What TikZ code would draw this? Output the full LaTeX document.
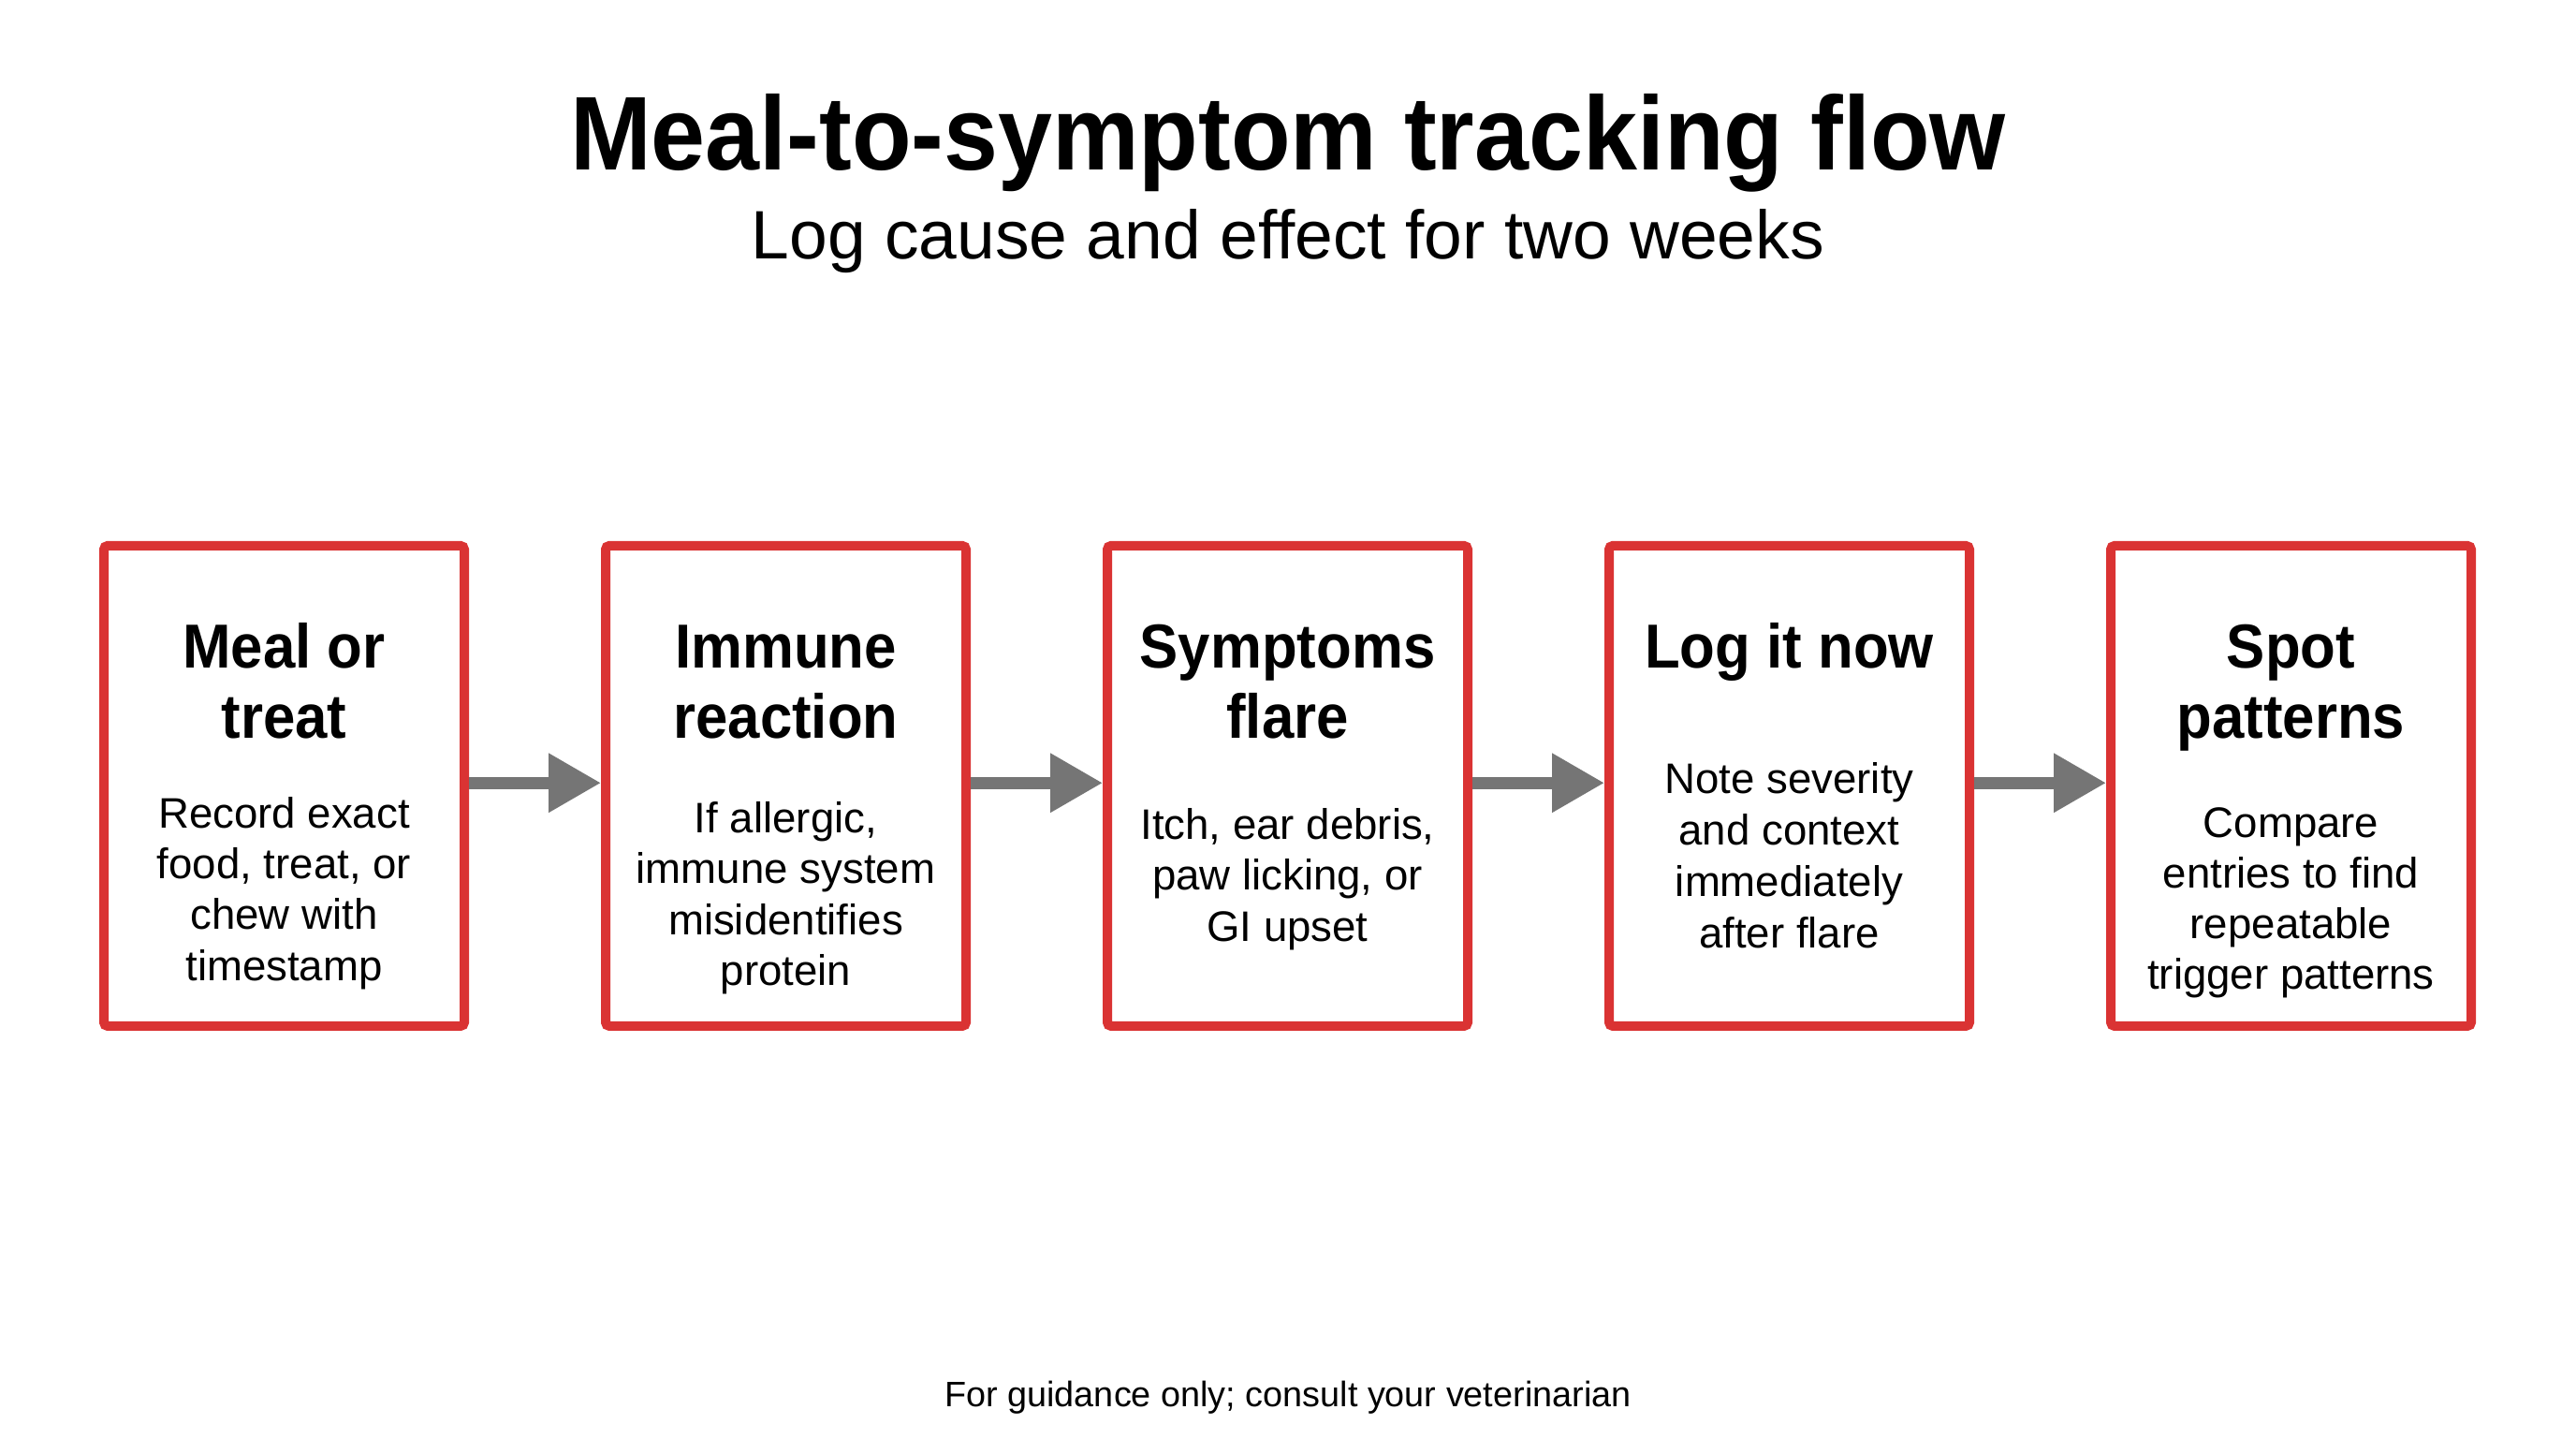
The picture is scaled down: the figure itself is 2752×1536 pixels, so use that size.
\documentclass[tikz,border=0pt]{standalone}
\usepackage{fontspec}
\setmainfont{Liberation Sans}
\newfontfamily\headfont{Liberation Sans}[FakeStretch=0.93]
\usetikzlibrary{arrows.meta}
\definecolor{boxred}{HTML}{DA3333}
\definecolor{arrgray}{HTML}{757575}
\tikzset{
  stepbox/.style={draw=boxred, line width=2.5pt, fill=white, rounded corners=1pt,
    minimum width=96.25pt, minimum height=128.25pt, inner sep=0pt},
  flowarrow/.style={draw=arrgray, line width=3.25pt, -{Triangle[length=14pt,width=15pt]}},
  headtxt/.style={font=\headfont\bfseries\fontsize{16.6pt}{19pt}\selectfont, anchor=base, inner sep=0pt},
  desctxt/.style={font=\fontsize{11.4pt}{13.6pt}\selectfont, anchor=base, inner sep=0pt},
}
\begin{document}
\begin{tikzpicture}[x=0.25pt,y=-0.25pt]
\useasboundingbox (0,0) rectangle (2752,1536);
\fill[white] (0,0) rectangle (2752,1536);

\node[font=\headfont\bfseries\fontsize{28pt}{32pt}\selectfont, anchor=base, inner sep=0pt] (title) at (1376,181) {Meal-to-symptom tracking flow};
\node[font=\fontsize{18.3pt}{22pt}\selectfont, anchor=base, inner sep=0pt] (subtitle) at (1376,276) {Log cause and effect for two weeks};

\node[stepbox] (b1) at (303.5,839.4) {};
\node[stepbox] (b2) at (839.5,839.4) {};
\node[stepbox] (b3) at (1375.5,839.4) {};
\node[stepbox] (b4) at (1911.5,839.4) {};
\node[stepbox] (b5) at (2447.5,839.4) {};

\draw[flowarrow] ([yshift=0.8pt]b1.east) -- ([yshift=0.8pt]b2.west);
\draw[flowarrow] ([yshift=0.8pt]b2.east) -- ([yshift=0.8pt]b3.west);
\draw[flowarrow] ([yshift=0.8pt]b3.east) -- ([yshift=0.8pt]b4.west);
\draw[flowarrow] ([yshift=0.8pt]b4.east) -- ([yshift=0.8pt]b5.west);

% box 1
\node[headtxt] (h1a) at (303.5,713) {Meal or};
\node[headtxt] (h1b) at (303.5,788) {treat};
\foreach \t [count=\i] in {Record exact, {food, treat, or}, chew with, timestamp}
  \node[desctxt] (d1\i) at (303.5,{884+54.4*(\i-1)}) {\t};
% box 2
\node[headtxt] (h2a) at (839.5,713) {Immune};
\node[headtxt] (h2b) at (839.5,788) {reaction};
\foreach \t [count=\i] in {{If allergic,}, immune system, misidentifies, protein}
  \node[desctxt] (d2\i) at (839.5,{889+54.6*(\i-1)}) {\t};
% box 3
\node[headtxt] (h3a) at (1375.5,713) {Symptoms};
\node[headtxt] (h3b) at (1375.5,788) {flare};
\foreach \t [count=\i] in {{Itch, ear debris,}, {paw licking, or}, GI upset}
  \node[desctxt] (d3\i) at (1375.5,{896+54.5*(\i-1)}) {\t};
% box 4
\node[headtxt] (h4a) at (1911.5,713) {Log it now};
\foreach \t [count=\i] in {Note severity, and context, immediately, after flare}
  \node[desctxt] (d4\i) at (1911.5,{847+55*(\i-1)}) {\t};
% box 5
\node[headtxt] (h5a) at (2447.5,713) {Spot};
\node[headtxt] (h5b) at (2447.5,788) {patterns};
\foreach \t [count=\i] in {Compare, entries to find, repeatable, trigger patterns}
  \node[desctxt] (d5\i) at (2447.5,{894+54*(\i-1)}) {\t};

\node[font=\fontsize{9.45pt}{11pt}\selectfont, anchor=base, inner sep=0pt] (foot) at (1376,1502) {For guidance only; consult your veterinarian};
\end{tikzpicture}
\end{document}
